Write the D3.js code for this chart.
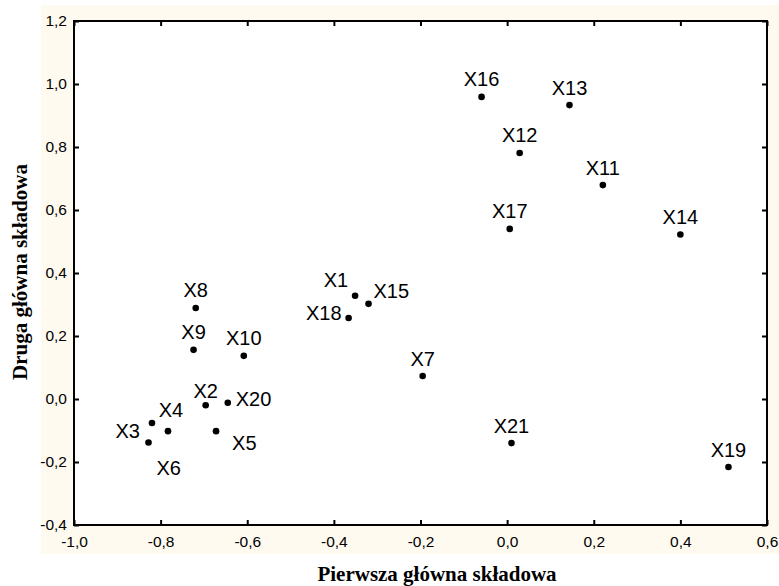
<!DOCTYPE html>
<html>
<head>
<meta charset="utf-8">
<script src="https://cdn.jsdelivr.net/npm/d3@7"></script>
<style>
  body { margin: 0; background: #fff; }
  svg { display: block; }
  .tick text { font-family: "Liberation Sans", Arial, sans-serif; font-size: 15.5px; fill: #000; }
  .ptLabel { font-family: "Liberation Sans", Arial, sans-serif; font-size: 20px; fill: #000; }
  .axisTitle { font-family: "Liberation Serif", "Times New Roman", serif; font-size: 21px; font-weight: bold; fill: #000; }
</style>
</head>
<body>
<div id="chart"></div>
<script>
// variables (loadings on the first two principal components)
var names = ["X1", "X2", "X3", "X4", "X5", "X6", "X7", "X8", "X9", "X10", "X11",
  "X12", "X13", "X14", "X15", "X16", "X17", "X18", "X19", "X20", "X21"];
var pc1 = [-0.351, -0.696, -0.820, -0.783, -0.672, -0.828, -0.195, -0.719, -0.724, -0.608, 0.221,
  0.029, 0.144, 0.400, -0.320, -0.059, 0.006, -0.366, 0.511, -0.645, 0.010];
var pc2 = [0.328, -0.020, -0.076, -0.102, -0.102, -0.138, 0.073, 0.289, 0.156, 0.137, 0.679,
  0.781, 0.933, 0.522, 0.302, 0.959, 0.540, 0.257, -0.216, -0.012, -0.140];
// where each label sits relative to its point
var labelSide = ["topLeft", "topLow", "leftLow", "topHigh", "rightLow", "below", "top", "top", "top", "top", "top",
  "top", "top", "top", "topRight", "top", "top", "left", "top", "right", "top"];

var xTicks = [-1.0, -0.8, -0.6, -0.4, -0.2, 0.0, 0.2, 0.4, 0.6];
var yTicks = [-0.4, -0.2, 0.0, 0.2, 0.4, 0.6, 0.8, 1.0, 1.2];

var xTitle = "Pierwsza główna składowa";
var yTitle = "Druga główna składowa";

var svgWidth = 779;
var svgHeight = 586;

var plot = { left: 74, top: 21, right: 767, bottom: 525 };

// label offsets: anchor, dx, dy
var sides = {
  top: ["middle", 0, -10.5],
  topLow: ["middle", 0, -7],
  topHigh: ["middle", 3, -14],
  topLeft: ["end", -7, -9],
  topRight: ["start", 5, -6],
  left: ["end", -7, 2],
  leftLow: ["end", -12, 15],
  right: ["start", 8, 3],
  rightLow: ["start", 16, 19],
  below: ["start", 8, 33]
};

var data = names.map(function(n, i) {
  return { name: n, x: pc1[i], y: pc2[i], side: labelSide[i] };
});

var fmt = d3.formatLocale({ decimal: ",", thousands: " ", grouping: [3], currency: ["", ""], minus: "-" }).format(".1f");

var svg = d3.select("#chart")
  .append("svg")
  .attr("width", svgWidth)
  .attr("height", svgHeight);

// cream panel behind the chart
svg.append("rect")
  .attr("x", 41)
  .attr("y", 5)
  .attr("width", svgWidth - 41)
  .attr("height", 549)
  .attr("fill", "#fffaf0");

svg.append("rect")
  .attr("x", plot.left)
  .attr("y", plot.top)
  .attr("width", plot.right - plot.left)
  .attr("height", plot.bottom - plot.top)
  .attr("fill", "#fff");

var xScale = d3.scaleLinear().domain([-1, 0.6]).range([plot.left, plot.right]);
var yScale = d3.scaleLinear().domain([-0.4, 1.2]).range([plot.bottom, plot.top]);

function styleAxis(g) {
  g.select(".domain").remove();
  g.attr("font-family", null).attr("font-size", null);
  g.selectAll(".tick line").attr("stroke", "#000").attr("stroke-width", 2);
  g.selectAll(".tick text").attr("fill", "#000");
}

// bottom + left with labels, top + right ticks only (all ticks point inward)
svg.append("g")
  .attr("transform", `translate(0, ${plot.bottom})`)
  .call(d3.axisBottom(xScale).tickValues(xTicks).tickSize(-5).tickPadding(11).tickFormat(fmt))
  .call(styleAxis);

svg.append("g")
  .attr("transform", `translate(${plot.left}, 0)`)
  .call(d3.axisLeft(yScale).tickValues(yTicks).tickSize(-5).tickPadding(7).tickFormat(fmt))
  .call(styleAxis);

svg.append("g")
  .attr("transform", `translate(0, ${plot.top})`)
  .call(d3.axisTop(xScale).tickValues(xTicks).tickSize(-5).tickFormat(""))
  .call(styleAxis);

svg.append("g")
  .attr("transform", `translate(${plot.right}, 0)`)
  .call(d3.axisRight(yScale).tickValues(yTicks).tickSize(-5).tickFormat(""))
  .call(styleAxis);

// frame
svg.append("rect")
  .attr("x", plot.left)
  .attr("y", plot.top)
  .attr("width", plot.right - plot.left)
  .attr("height", plot.bottom - plot.top)
  .attr("fill", "none")
  .attr("stroke", "#000")
  .attr("stroke-width", 2);

// points
var pts = svg.selectAll("g.pt")
  .data(data)
  .enter()
  .append("g")
  .attr("class", "pt");

pts.append("circle")
  .attr("cx", d => xScale(d.x))
  .attr("cy", d => yScale(d.y))
  .attr("r", 3.3)
  .attr("fill", "#000");

pts.append("text")
  .attr("class", "ptLabel")
  .attr("x", d => xScale(d.x) + sides[d.side][1])
  .attr("y", d => yScale(d.y) + sides[d.side][2])
  .attr("text-anchor", d => sides[d.side][0])
  .text(d => d.name);

// axis titles
svg.append("text")
  .attr("class", "axisTitle")
  .attr("x", 437)
  .attr("y", 581)
  .attr("text-anchor", "middle")
  .text(xTitle);

svg.append("text")
  .attr("class", "axisTitle")
  .attr("transform", `translate(27, ${(plot.top + plot.bottom) / 2 - 1}) rotate(-90)`)
  .attr("text-anchor", "middle")
  .text(yTitle);
</script>
</body>
</html>
